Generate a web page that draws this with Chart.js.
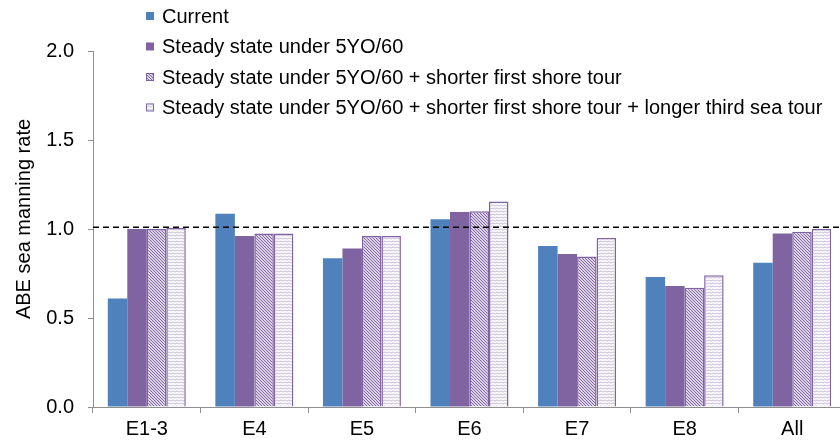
<!DOCTYPE html>
<html>
<head>
<meta charset="utf-8">
<script src="https://cdn.jsdelivr.net/npm/chart.js@4.4.1/dist/chart.umd.min.js"></script>
<style>
  html, body { margin: 0; padding: 0; background: #fff; overflow: hidden; }
  #wrap { width: 846px; height: 444px; }
</style>
</head>
<body>
<div id="wrap"><canvas id="chart" width="846" height="444"></canvas></div>
<script>
// values
const categories = ["E1-3", "E4", "E5", "E6", "E7", "E8", "All"]
const seriesNames = [
  "Current",
  "Steady state under 5YO/60",
  "Steady state under 5YO/60 + shorter first shore tour",
  "Steady state under 5YO/60 + shorter first shore tour + longer third sea tour"
]
const current = [0.61, 1.085, 0.835, 1.055, 0.905, 0.73, 0.81]
const steadyState = [1.0, 0.96, 0.89, 1.095, 0.86, 0.68, 0.975]
const shorterShore = [1.0, 0.975, 0.96, 1.10, 0.845, 0.67, 0.985]
const longerSea = [1.005, 0.975, 0.96, 1.155, 0.95, 0.74, 1.0]
const targetRate = 1.01
const yTitle = "ABE sea manning rate"

const FONT = "'Liberation Sans', Arial, sans-serif"
const BLUE = "#4f81bd"
const PURPLE = "#8064a2"

function hatchPattern() {
  const c = document.createElement("canvas")
  c.width = 3; c.height = 3
  const g = c.getContext("2d")
  g.fillStyle = "#fff"; g.fillRect(0, 0, 3, 3)
  g.strokeStyle = PURPLE; g.lineWidth = 1.1
  g.beginPath()
  g.moveTo(-1, -1); g.lineTo(4, 4)
  g.moveTo(-1, 2); g.lineTo(1, 4)
  g.moveTo(2, -1); g.lineTo(4, 1)
  g.stroke()
  return g.createPattern(c, "repeat")
}

function wavePattern() {
  const c = document.createElement("canvas")
  c.width = 4; c.height = 3
  const g = c.getContext("2d")
  g.fillStyle = "#fff"; g.fillRect(0, 0, 4, 3)
  g.strokeStyle = "#b4a4cc"; g.lineWidth = 0.8
  g.beginPath()
  g.moveTo(0, 1.5); g.lineTo(1, 0.9); g.lineTo(2, 1.5); g.lineTo(3, 2.1); g.lineTo(4, 1.5)
  g.stroke()
  return g.createPattern(c, "repeat")
}

const overlay = {
  id: "overlay",
  afterDatasetsDraw(chart) {
    const { ctx, chartArea, scales: { y } } = chart
    const yPix = y.getPixelForValue(targetRate)
    ctx.save()
    ctx.setLineDash([6, 4])
    ctx.lineWidth = 1.4
    ctx.strokeStyle = "#000"
    ctx.beginPath()
    ctx.moveTo(chartArea.left, yPix)
    ctx.lineTo(chartArea.right, yPix)
    ctx.stroke()
    ctx.restore()
  },
  afterDraw(chart) {
    const ctx = chart.ctx
    ctx.save()
    // axis title
    ctx.font = "20px " + FONT
    ctx.fillStyle = "#000"
    ctx.translate(29.5, 219)
    ctx.rotate(-Math.PI / 2)
    ctx.textAlign = "center"
    ctx.textBaseline = "alphabetic"
    ctx.fillText(yTitle, 0, 0)
    ctx.restore()

    // legend, one entry per row
    ctx.save()
    ctx.font = "20px " + FONT
    ctx.textBaseline = "middle"
    chart.data.datasets.forEach((ds, i) => {
      const cy = 16 + i * 30.5
      ctx.fillStyle = ds.backgroundColor
      ctx.fillRect(146, cy - 4, 8, 8)
      if (ds.borderWidth) {
        ctx.strokeStyle = ds.borderColor
        ctx.lineWidth = 1
        ctx.strokeRect(146.5, cy - 3.5, 7, 7)
      }
      ctx.fillStyle = "#000"
      ctx.fillText(ds.label, 162, cy + 1)
    })
    ctx.restore()
  }
}

const ctx = document.getElementById("chart").getContext("2d")
new Chart(ctx, {
  type: "bar",
  data: {
    labels: categories,
    datasets: [
      { label: seriesNames[0], data: current, backgroundColor: BLUE, borderWidth: 0 },
      { label: seriesNames[1], data: steadyState, backgroundColor: PURPLE, borderWidth: 0 },
      { label: seriesNames[2], data: shorterShore, backgroundColor: hatchPattern(), borderColor: PURPLE, borderWidth: 1.5 },
      { label: seriesNames[3], data: longerSea, backgroundColor: wavePattern(), borderColor: PURPLE, borderWidth: 1.5 }
    ]
  },
  options: {
    responsive: false,
    animation: false,
    layout: { padding: { top: 51, left: 0, right: 0, bottom: 0 } },
    datasets: { bar: { categoryPercentage: 0.725, barPercentage: 1 } },
    scales: {
      x: {
        afterFit: s => { s.height = 37 },
        grid: { drawOnChartArea: false, tickLength: 6, color: "#8e8e8e" },
        border: { color: "#8e8e8e" },
        ticks: { color: "#000", padding: 4, font: { family: FONT, size: 20 } }
      },
      y: {
        min: 0,
        max: 2,
        afterFit: s => { s.width = 93 },
        grid: { drawOnChartArea: false, tickLength: 5, color: "#8e8e8e" },
        border: { color: "#8e8e8e" },
        ticks: {
          stepSize: 0.5,
          padding: 14,
          color: "#000",
          font: { family: FONT, size: 20 },
          callback: v => v.toFixed(1)
        }
      }
    },
    plugins: { legend: { display: false }, tooltip: { enabled: false } }
  },
  plugins: [overlay]
})
</script>
</body>
</html>
